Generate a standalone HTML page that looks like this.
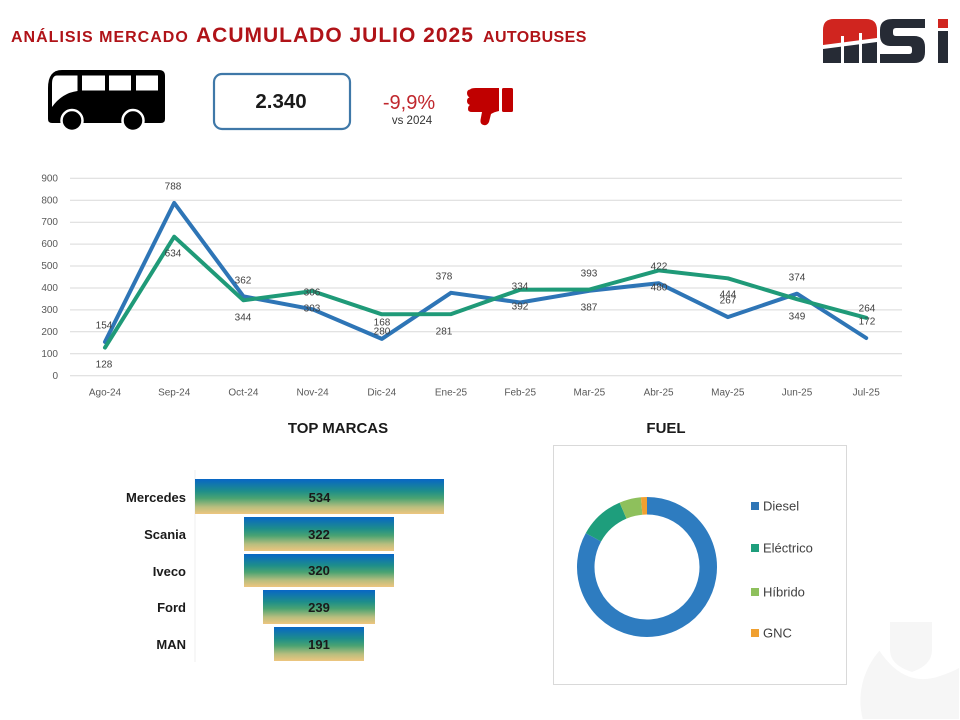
<!DOCTYPE html>
<html><head><meta charset="utf-8"><style>
html,body{margin:0;padding:0;background:#fff;width:960px;height:720px;overflow:hidden;}
svg{display:block;overflow:hidden;font-family:"Liberation Sans",sans-serif;}
</style></head><body>
<svg width="960" height="720" viewBox="0 0 960 720" xmlns="http://www.w3.org/2000/svg">
<defs>
<linearGradient id="fg" x1="0" y1="0" x2="0" y2="1">
<stop offset="0" stop-color="#0866C6"/>
<stop offset="0.35" stop-color="#1E8E8A"/>
<stop offset="0.55" stop-color="#4AA372"/>
<stop offset="0.8" stop-color="#B9BE7E"/>
<stop offset="1" stop-color="#EEC57F"/>
</linearGradient>
</defs>

<!-- watermark -->
<path d="M862.7 719 A75 75 0 0 1 959 629.5 L959 719 Z" fill="#f6f6f6"/>
<path d="M873 640 Q900 690 940 676 Q952 672 959 668 L959 600 L873 600 Z" fill="#fff"/>
<path d="M890 622 H932 V650 Q932 665 912 672 Q890 665 890 650 Z" fill="#f6f6f6"/>

<!-- title -->
<text y="42" fill="#B01318" font-weight="bold">
<tspan x="11" font-size="16" letter-spacing="1">ANÁLISIS MERCADO</tspan>
<tspan x="196" font-size="21" letter-spacing="1">ACUMULADO JULIO 2025</tspan>
<tspan x="483" font-size="16" letter-spacing="0.4">AUTOBUSES</tspan>
</text>

<!-- logo -->
<g>
<path d="M823 63 V30 Q823 19 834 19 H866 Q877 19 877 30 V38 L823 45 Z" fill="#D0251F"/>
<path d="M823 49 L877 42 V63 H823 Z" fill="#262B35"/>
<path d="M823 46 L877 39 V41 L823 48 Z" fill="#fff"/>
<rect x="841" y="36" width="3" height="27" fill="#fff"/>
<rect x="859" y="33" width="3" height="30" fill="#fff"/>
<path d="M893 19 H925 V28 H896 Q893 28 893 31 V33 Q893 36 896 36 H914 Q925 36 925 47 V52 Q925 63 914 63 H880 V54 H909 Q912 54 912 51 V49 Q912 46 909 46 H891 Q880 46 880 35 V30 Q880 19 893 19 Z" fill="#262B35"/>
<rect x="938" y="19" width="10" height="9" fill="#D0251F"/>
<rect x="938" y="31" width="10" height="32" fill="#262B35"/>
</g>

<!-- bus -->
<path d="M62 70 H159 Q165 70 165 76 V119 Q165 123 161 123 H52 Q48 123 48 119 V88 Q48 70 62 70 Z" fill="#000"/>
<rect x="82" y="75.5" width="23" height="15" fill="#fff"/>
<rect x="109" y="75.5" width="22" height="15" fill="#fff"/>
<rect x="136" y="75.5" width="22" height="15" fill="#fff"/>
<path d="M57 75.5 H77.5 V91 Q62 93 52 107 V84 Q52 75.5 57 75.5 Z" fill="#fff"/>
<circle cx="72" cy="120.5" r="10.5" fill="#000" stroke="#fff" stroke-width="2.5"/>
<circle cx="133" cy="120.5" r="10.5" fill="#000" stroke="#fff" stroke-width="2.5"/>

<!-- total box -->
<rect x="214" y="74" width="136" height="55" rx="8" fill="#fff" stroke="#3F78A8" stroke-width="2.2"/>
<text x="281" y="108" font-size="20.5" font-weight="bold" text-anchor="middle" fill="#1a1a1a">2.340</text>

<text x="409" y="109" font-size="20" text-anchor="middle" fill="#C0272D">-9,9%</text>
<text x="412" y="124" font-size="11.5" text-anchor="middle" fill="#333">vs 2024</text>

<!-- thumbs down -->
<rect x="502" y="88" width="11" height="24" rx="1.5" fill="#C00000"/>
<path d="M476 88 H499 V111 Q494 112 491 114 L489 122 Q487 126 483.5 125 Q480 124 480.5 120 L482 112 H472 Q468 112 468 109 Q468 106 470 105 Q467 104 467 101 Q467 98 469.5 97.5 Q467 96 467 93 Q467 90 470 89.5 Q471 88 476 88 Z" fill="#C00000"/>

<!-- line chart grid -->
<g stroke="#D9D9D9" stroke-width="1">
<line x1="70" x2="902" y1="375.7" y2="375.7"/>
<line x1="70" x2="902" y1="353.8" y2="353.8"/>
<line x1="70" x2="902" y1="331.8" y2="331.8"/>
<line x1="70" x2="902" y1="309.9" y2="309.9"/>
<line x1="70" x2="902" y1="288.0" y2="288.0"/>
<line x1="70" x2="902" y1="266.0" y2="266.0"/>
<line x1="70" x2="902" y1="244.1" y2="244.1"/>
<line x1="70" x2="902" y1="222.2" y2="222.2"/>
<line x1="70" x2="902" y1="200.3" y2="200.3"/>
<line x1="70" x2="902" y1="178.3" y2="178.3"/>
</g>
<g font-size="10" fill="#595959" text-anchor="end">
<text x="58" y="379">0</text>
<text x="58" y="357">100</text>
<text x="58" y="335">200</text>
<text x="58" y="313">300</text>
<text x="58" y="291">400</text>
<text x="58" y="269">500</text>
<text x="58" y="247">600</text>
<text x="58" y="225">700</text>
<text x="58" y="203.5">800</text>
<text x="58" y="181.5">900</text>
</g>
<g font-size="10" fill="#595959" text-anchor="middle">
<text x="105" y="395.5">Ago-24</text>
<text x="174.2" y="395.5">Sep-24</text>
<text x="243.4" y="395.5">Oct-24</text>
<text x="312.6" y="395.5">Nov-24</text>
<text x="381.8" y="395.5">Dic-24</text>
<text x="451" y="395.5">Ene-25</text>
<text x="520.2" y="395.5">Feb-25</text>
<text x="589.4" y="395.5">Mar-25</text>
<text x="658.6" y="395.5">Abr-25</text>
<text x="727.8" y="395.5">May-25</text>
<text x="797" y="395.5">Jun-25</text>
<text x="866.2" y="395.5">Jul-25</text>
</g>
<polyline fill="none" stroke="#2E75B6" stroke-width="4" stroke-linejoin="round" stroke-linecap="round"
points="105,341.9 174.2,202.9 243.4,296.3 312.6,309.3 381.8,338.9 451,292.8 520.2,302.5 589.4,290.8 658.6,283.2 727.8,317.1 797,293.7 866.2,338"/>
<polyline fill="none" stroke="#1F9A78" stroke-width="4" stroke-linejoin="round" stroke-linecap="round"
points="105,347.6 174.2,236.7 243.4,300.3 312.6,291.1 381.8,314.3 451,314.1 520.2,289.7 589.4,289.5 658.6,270.4 727.8,278.3 797,299.2 866.2,317.8"/>
<g font-size="10" fill="#404040" text-anchor="middle">
<text x="173" y="189.5">788</text>
<text x="173" y="256.5">634</text>
<text x="104" y="328.5">154</text>
<text x="104" y="367.5">128</text>
<text x="243" y="283.5">362</text>
<text x="243" y="320.5">344</text>
<text x="312" y="295.5">306</text>
<text x="312" y="311.5">303</text>
<text x="382" y="325.5">168</text>
<text x="382" y="334.5">280</text>
<text x="444" y="279.5">378</text>
<text x="444" y="334.5">281</text>
<text x="520" y="289.5">334</text>
<text x="520" y="309.5">392</text>
<text x="589" y="276.5">393</text>
<text x="589" y="310.5">387</text>
<text x="659" y="269.5">422</text>
<text x="659" y="290.5">480</text>
<text x="728" y="297.5">444</text>
<text x="728" y="303.5">267</text>
<text x="797" y="280.5">374</text>
<text x="797" y="319.5">349</text>
<text x="867" y="311.5">264</text>
<text x="867" y="324.5">172</text>
</g>

<!-- funnel -->
<text x="338" y="433" font-size="15" font-weight="bold" text-anchor="middle" fill="#1a1a1a">TOP MARCAS</text>
<line x1="195" y1="470" x2="195" y2="662" stroke="#efefef" stroke-width="1"/>
<rect x="195" y="479" width="249" height="35" fill="url(#fg)"/>
<rect x="244" y="517" width="150" height="34" fill="url(#fg)"/>
<rect x="244" y="554" width="150" height="33" fill="url(#fg)"/>
<rect x="263" y="590" width="112" height="34" fill="url(#fg)"/>
<rect x="274" y="627" width="90" height="34" fill="url(#fg)"/>
<g font-size="13" font-weight="bold" fill="#1a1a1a">
<g text-anchor="end">
<text x="186" y="502">Mercedes</text>
<text x="186" y="539">Scania</text>
<text x="186" y="576">Iveco</text>
<text x="186" y="612">Ford</text>
<text x="186" y="649">MAN</text>
</g>
<g text-anchor="middle">
<text x="319.5" y="502">534</text>
<text x="319" y="539">322</text>
<text x="319" y="575">320</text>
<text x="319" y="612">239</text>
<text x="319" y="649">191</text>
</g>
</g>

<!-- fuel -->
<text x="666" y="433" font-size="15" font-weight="bold" text-anchor="middle" fill="#1a1a1a">FUEL</text>
<rect x="553.5" y="445.5" width="293" height="239" fill="none" stroke="#D9D9D9" stroke-width="1"/>
<g fill="none" stroke-width="17.5">
<path d="M647 505.75 A61.25 61.25 0 1 1 593.43 537.31" stroke="#2E7CC0"/>
<path d="M593.43 537.31 A61.25 61.25 0 0 1 623.07 510.62" stroke="#1E9E7C"/>
<path d="M623.07 510.62 A61.25 61.25 0 0 1 641.66 505.98" stroke="#8EC05C"/>
<path d="M641.66 505.98 A61.25 61.25 0 0 1 647 505.75" stroke="#F0A030"/>
</g>
<rect x="751" y="502" width="8" height="8" fill="#2E75B6"/>
<rect x="751" y="544" width="8" height="8" fill="#1E9E7C"/>
<rect x="751" y="588" width="8" height="8" fill="#8EC05C"/>
<rect x="751" y="629" width="8" height="8" fill="#F0A030"/>
<g font-size="13" fill="#404040">
<text x="763" y="510.5">Diesel</text>
<text x="763" y="552.5">Eléctrico</text>
<text x="763" y="596.5">Híbrido</text>
<text x="763" y="637.5">GNC</text>
</g>
</svg>
</body></html>
